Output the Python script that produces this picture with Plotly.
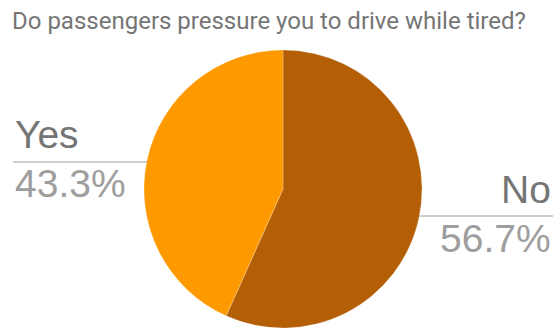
import math
import plotly.graph_objects as go

# ---- data ----
labels = ["Yes", "No"]
values = [43.3, 56.7]
colors = ["#FF9900", "#B45F06"]
title = "Do passengers pressure you to drive while tired?"

W, H = 556, 328
# pie geometry (pixels)
cx, cy, r = 283, 189, 139

fig = go.Figure()
fig.add_trace(go.Pie(
    labels=labels[::-1], values=values[::-1], sort=False, direction="clockwise",
    rotation=0, textinfo="none", hoverinfo="label+percent",
    marker=dict(colors=colors[::-1], line=dict(color="rgba(255,255,255,0.4)", width=0.6)),
    domain=dict(x=[(cx - r) / W, (cx + r) / W], y=[(H - cy - r) / H, (H - cy + r) / H]),
    showlegend=False,
))

# leader lines computed from slice mid-angles (Yes counterclockwise from 12 o'clock)
total = sum(values)
start = 0.0
annotations = []
for lab, v in zip(labels, values):
    frac = v / total
    mid = (start + frac / 2) * 2 * math.pi
    start += frac
    dx = -math.sin(mid)
    dy = -math.cos(mid)  # pixel y (down positive)
    px = cx + 0.93 * r * dx
    py = cy + 0.93 * r * dy
    left = dx < 0
    x_end = 13 if left else 553
    fig.add_trace(go.Scatter(x=[x_end, px], y=[py, py], mode="lines",
                             line=dict(color="#9e9e9e", width=1),
                             hoverinfo="skip", showlegend=False))
    fig.add_trace(go.Scatter(x=[px], y=[py], mode="markers",
                             marker=dict(color="#9e9e9e", size=4),
                             hoverinfo="skip", showlegend=False))
    anchor = "left" if left else "right"
    pct = f"{100 * frac:.1f}%"
    annotations.append(dict(x=x_end, y=py - 27, text=lab,
                            xanchor=anchor, yanchor="middle", showarrow=False,
                            font=dict(family="Liberation Sans, Arial", size=39, color="#757575"),
                            xref="x", yref="y"))
    annotations.append(dict(x=x_end, y=py + 22, text=pct,
                            xanchor=anchor, yanchor="middle", showarrow=False,
                            font=dict(family="Liberation Sans, Arial", size=39, color="#9e9e9e"),
                            xref="x", yref="y"))

annotations.append(dict(x=10, y=5, text=title, xanchor="left", yanchor="top",
                        showarrow=False, xref="x", yref="y",
                        font=dict(family="Roboto", size=24, color="#757575")))

fig.update_layout(
    width=W, height=H, margin=dict(l=0, r=0, t=0, b=0),
    paper_bgcolor="white", plot_bgcolor="rgba(0,0,0,0)",
    xaxis=dict(range=[0, W], visible=False, fixedrange=True),
    yaxis=dict(range=[H, 0], visible=False, fixedrange=True),
    annotations=annotations,
)
fig.write_html("out.html")
